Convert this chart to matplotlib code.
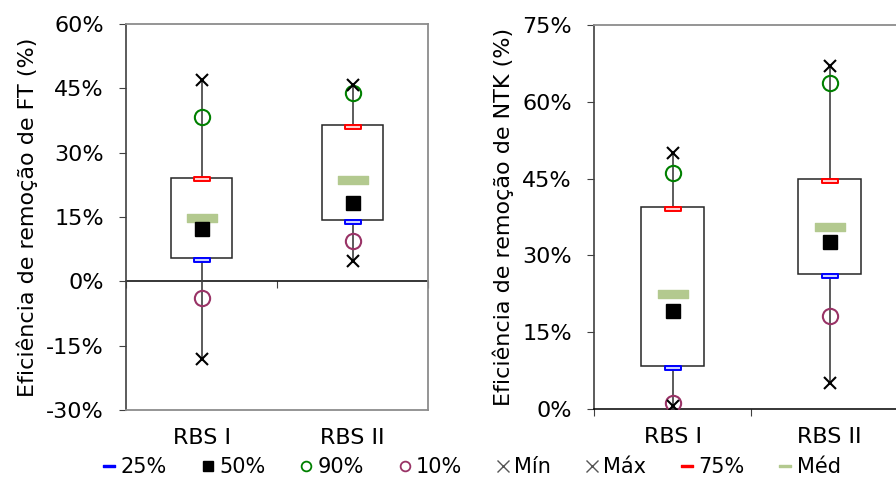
import numpy as np
import matplotlib.pyplot as plt
from matplotlib.path import Path
from matplotlib.patches import Rectangle
from matplotlib.lines import Line2D

plt.rcParams['font.family'] = ['DejaVu Sans']

cats = ['RBS I', 'RBS II']

# FT removal efficiency (%)
ft_box_lo = [5.4, 14.2]
ft_box_hi = [24.2, 36.4]
ft_p25 = [5.0, 13.9]
ft_p75 = [23.8, 36.0]
ft_p50 = [12.2, 18.2]
ft_mean = [14.8, 23.6]
ft_p90 = [38.2, 43.8]
ft_p10 = [-3.9, 9.5]
ft_min = [-18.2, 4.7]
ft_max = [46.9, 45.8]

# NTK removal efficiency (%)
ntk_box_lo = [8.4, 26.3]
ntk_box_hi = [39.4, 44.9]
ntk_p25 = [8.1, 25.9]
ntk_p75 = [39.1, 44.5]
ntk_p50 = [19.2, 32.6]
ntk_mean = [22.5, 35.6]
ntk_p90 = [46.0, 63.6]
ntk_p10 = [1.2, 18.2]
ntk_min = [0.6, 5.1]
ntk_max = [50.0, 67.0]

dash = Path([(-1, -0.25), (1, -0.25), (1, 0.25), (-1, 0.25), (-1, -0.25)],
            [Path.MOVETO, Path.LINETO, Path.LINETO, Path.LINETO, Path.CLOSEPOLY])
bar = Path([(-1, -0.28), (1, -0.28), (1, 0.28), (-1, 0.28), (-1, -0.28)],
           [Path.MOVETO, Path.LINETO, Path.LINETO, Path.LINETO, Path.CLOSEPOLY])

C_MEAN = '#b3c98f'
C_P10 = '#993366'
C_P90 = '#008000'


def draw(ax, lo, hi, p25, p75, p50, mean, p90, p10, mn, mx):
    x = np.arange(len(cats)) + 0.5
    ax.vlines(x, mn, mx, color='#404040', lw=1.2, zorder=1)
    for xi, a, b in zip(x, lo, hi):
        ax.add_patch(Rectangle((xi - 0.2, a), 0.4, b - a, facecolor='white',
                               edgecolor='#262626', lw=1.1, zorder=2))
    ax.plot(x, p25, ls='none', marker=dash, ms=11.5, mfc='#ccd4ff', mec='#0000ff', mew=1.4, zorder=4)
    ax.plot(x, p75, ls='none', marker=dash, ms=11.5, mfc='#ffd0d0', mec='#ff0000', mew=1.4, zorder=4)
    ax.plot(x, mean, ls='none', marker=bar, ms=21, mfc=C_MEAN, mec=C_MEAN, zorder=4)
    ax.plot(x, p50, ls='none', marker='s', ms=10, mfc='black', mec='black', zorder=5)
    ax.plot(x, p90, ls='none', marker='o', ms=11, mfc='none', mec=C_P90, mew=1.5, zorder=5)
    ax.plot(x, p10, ls='none', marker='o', ms=11, mfc='none', mec=C_P10, mew=1.5, zorder=5)
    ax.plot(x, mn, ls='none', marker='x', ms=9, mec='black', mew=1.5, zorder=6)
    ax.plot(x, mx, ls='none', marker='x', ms=9, mec='black', mew=1.5, zorder=6)
    ax.set_xlim(0, 2)
    ax.set_xticks([])
    ax.set_xticks(x, minor=True)
    ax.set_xticklabels(cats, minor=True, fontsize=16)
    ax.tick_params(axis='x', which='minor', length=0, pad=13)
    ax.tick_params(axis='y', labelsize=16, length=5, color='#404040', pad=11)
    for s in ['top', 'right', 'bottom']:
        ax.spines[s].set_color('#8c8c8c')
        ax.spines[s].set_linewidth(1.3)
    ax.spines['left'].set_color('#404040')
    ax.spines['left'].set_linewidth(1.2)


fig = plt.figure(figsize=(8.96, 4.79), dpi=100)

ax1 = fig.add_axes([126 / 896, 69 / 479, 302 / 896, 386 / 479])
draw(ax1, ft_box_lo, ft_box_hi, ft_p25, ft_p75, ft_p50, ft_mean, ft_p90, ft_p10, ft_min, ft_max)
ax1.set_ylim(-30, 60)
yt1 = np.arange(-30, 61, 15)
ax1.set_yticks(yt1)
ax1.set_yticklabels([f'{v}%' for v in yt1])
ax1.set_ylabel('Eficiência de remoção de FT (%)', fontsize=16, labelpad=6)
sec = ax1.secondary_xaxis(1 / 3)
sec.set_xticks([0, 1, 2])
sec.set_xticklabels([])
sec.tick_params(length=5, color='#404040')
sec.spines['bottom'].set_color('black')
sec.spines['bottom'].set_linewidth(1.1)

ax2 = fig.add_axes([594 / 896, 70 / 479, 314 / 896, 384 / 479])
draw(ax2, ntk_box_lo, ntk_box_hi, ntk_p25, ntk_p75, ntk_p50, ntk_mean, ntk_p90, ntk_p10, ntk_min, ntk_max)
ax2.set_ylim(0, 75)
yt2 = np.arange(0, 76, 15)
ax2.set_yticks(yt2)
ax2.set_yticklabels([f'{v}%' for v in yt2])
ax2.set_ylabel('Eficiência de remoção de NTK (%)', fontsize=16, labelpad=6)
ax2.spines['bottom'].set_color('black')
ax2.spines['bottom'].set_linewidth(1.1)
ax2.set_xticks([0, 1, 2])
ax2.set_xticklabels([])
ax2.tick_params(axis='x', which='major', length=5, color='#404040')

handles = [
    Line2D([], [], ls='none', marker=dash, ms=8, mfc='#0000ff', mec='#0000ff'),
    Line2D([], [], ls='none', marker='s', ms=7, mfc='black', mec='black'),
    Line2D([], [], ls='none', marker='o', ms=7, mfc='none', mec=C_P90, mew=1.3),
    Line2D([], [], ls='none', marker='o', ms=7, mfc='none', mec=C_P10, mew=1.3),
    Line2D([], [], ls='none', marker='x', ms=8, mec='#555555', mew=1.0),
    Line2D([], [], ls='none', marker='x', ms=8, mec='#555555', mew=1.0),
    Line2D([], [], ls='none', marker=dash, ms=8, mfc='#ff0000', mec='#ff0000'),
    Line2D([], [], ls='none', marker=dash, ms=8, mfc=C_MEAN, mec=C_MEAN),
]
labels = ['25%', '50%', '90%', '10%', 'Mín', 'Máx', '75%', 'Méd']
fig.legend(handles, labels, loc='center', bbox_to_anchor=(472 / 896, 1 - 467 / 479), ncol=8,
           frameon=False, fontsize=15, handlelength=0.6, handletextpad=0.25,
           columnspacing=1.65, borderaxespad=0)

fig.savefig('out.png', dpi=100)
